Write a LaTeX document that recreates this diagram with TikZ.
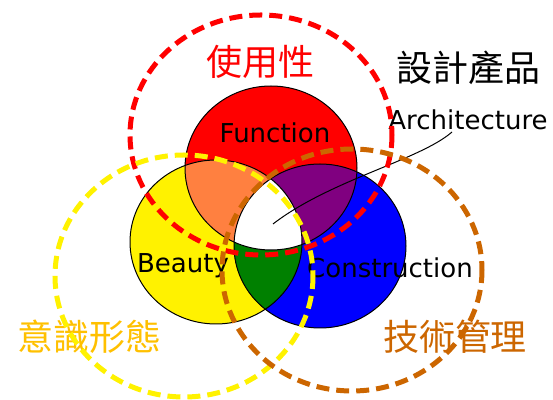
\documentclass[tikz,border=0pt]{standalone}
\usepackage{fontspec}
\setmainfont{DejaVu Sans}
\newfontfamily\cjkfont{Noto Sans CJK TC}
\definecolor{coral}{RGB}{255,128,64}
\definecolor{plum}{RGB}{128,0,128}
\definecolor{leaf}{RGB}{0,128,0}
\definecolor{amber}{RGB}{255,192,0}
\definecolor{rust}{RGB}{204,102,0}

\begin{document}
\begin{tikzpicture}[x=0.5pt,y=-0.5pt,
  ring/.style={line width=2.5pt,dash pattern=on 6.5pt off 3.5pt},
  rim/.style={line width=0.5pt,black},
  word/.style={inner sep=0pt,anchor=base,font=\fontsize{13}{13}\selectfont},
  hanzi/.style={inner sep=0pt,font=\cjkfont\fontsize{18}{18}\selectfont}]
  \useasboundingbox (0,0) rectangle (553,400);

  \coordinate (F) at (271,168); % Function
  \coordinate (B) at (216,242); % Beauty
  \coordinate (C) at (320,246); % Construction

  \fill[red] (F) ellipse [x radius=86,y radius=82];
  \fill[yellow] (B) ellipse [x radius=86,y radius=82];
  \fill[blue] (C) ellipse [x radius=86,y radius=82];
  \begin{scope}
    \clip (F) ellipse [x radius=86,y radius=82];
    \fill[coral] (B) ellipse [x radius=86,y radius=82];
    \fill[plum] (C) ellipse [x radius=86,y radius=82];
  \end{scope}
  \begin{scope}
    \clip (B) ellipse [x radius=86,y radius=82];
    \fill[leaf] (C) ellipse [x radius=86,y radius=82];
  \end{scope}
  \begin{scope}
    \clip (F) ellipse [x radius=86,y radius=82];
    \clip (B) ellipse [x radius=86,y radius=82];
    \fill[white] (C) ellipse [x radius=86,y radius=82];
  \end{scope}
  \draw[rim] (F) ellipse [x radius=86,y radius=82];
  \draw[rim] (B) ellipse [x radius=86,y radius=82];
  \draw[rim] (C) ellipse [x radius=86,y radius=82];

  \node[word] (func) at (275,143) {Function};
  \node[word] (beauty) at (183,273) {Beauty};
  \node[word] (cons) at (390,278) {Construction};
  \node[word] (arch) at (468,130) {Architecture};

  \node[hanzi,red] (use) at (260,62) {使用性};
  \node[hanzi,black] (prod) at (468,68) {設計產品};
  \node[hanzi,amber] (idea) at (90,337) {意識形態};
  \node[hanzi,rust] (tech) at (455,337) {技術管理};

  % leader from the label into the middle
  \coordinate (tail) at (452,132);
  \coordinate (core) at (273,224);
  \draw[rim] (tail) .. controls (420,160) and (330,180) .. (core);

  % dashed rings
  \draw[ring,red] (261,135) ellipse [x radius=131,y radius=120];
  \draw[ring,yellow] (184,276) ellipse [x radius=129,y radius=121];
  \draw[ring,rust] (352,270) ellipse [x radius=130,y radius=121];
\end{tikzpicture}
\end{document}
